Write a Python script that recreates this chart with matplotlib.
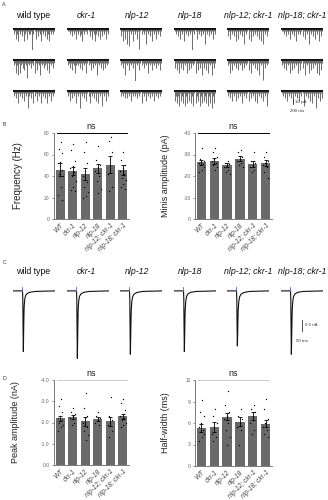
import numpy as np
import matplotlib
matplotlib.use("Agg")
import matplotlib.pyplot as plt

plt.rcParams['font.family'] = ['Liberation Sans', 'DejaVu Sans']

W, H = 328, 500
fig = plt.figure(figsize=(W / 100, H / 100), dpi=100)
fig.patch.set_facecolor('white')


def add_px(x, y, w, h):
    return fig.add_axes([x / W, 1 - (y + h) / H, w / W, h / H])


# ---------------- data ----------------
genotypes = ["wild type", "ckr-1", "nlp-12", "nlp-18", "nlp-12; ckr-1", "nlp-18; ckr-1"]
bar_labels = ["WT", "ckr-1", "nlp-12", "nlp-18", "nlp-12; ckr-1", "nlp-18; ckr-1"]

# Panel A: example mini traces, each digit = event depth (x5 pA) in equal time slots (1 s sweep)
mini_traces = [
    ["2142512131521412219214131251213142512121", "2152615213412712131251412612132141512131", "2131512131412172131521412151213151214121"],
    ["1121312141213251211213141252131413121412", "2131412521213141215121413121612131413121", "2141312151217121314125121314151216121412"],
    ["3151416171215121418121216121315121412131", "2131612141213191214121312151214121312141", "2121313121412121312151214121312141213121"],
    ["1213141215121312191214121312161213121412", "3141513141215141312151413161314151216131", "4252614251625141526152416251425162517251"],
    ["3141213151412131612141513121314151612131", "2151412131412141312141512131416121813121", "2131412141312151213141312141512131412161"],
    ["1121312141213151212131412161213141215131", "2131412151413121514131612151413121516141", "1213141213151213141216121314151217131413"],
]
mini_dur = 1000.0
mini_scale = 5.0

# Panel B
freq_mean = [46, 44.5, 42, 47, 50.5, 45.5]
freq_sem = [6, 3.5, 5.5, 4.5, 8, 5]
freq_pts = [
    [72, 65, 61, 53, 52, 46, 42, 40, 30, 22, 18],
    [70, 64, 54, 49, 47, 44, 40, 35, 30, 27, 26],
    [72, 62, 52, 45, 40, 34, 30, 25, 21, 20],
    [68, 55, 50, 48, 45, 40, 35, 28, 24],
    [76, 73, 62, 50, 42, 30, 26],
    [62, 55, 50, 47, 45, 42, 38, 36, 33, 30, 28],
]
amp_mean = [-26.3, -27, -25, -28, -25.5, -26]
amp_sem = [1.0, 1.3, 0.9, 1.2, 1.3, 1.4]
amp_pts = [
    [-33, -28, -27, -26.5, -26, -25.5, -25, -24, -23, -22],
    [-33, -31, -29, -28, -27, -26, -25, -24, -23],
    [-27, -26, -25.5, -25, -24, -23, -22, -21],
    [-32, -31, -29, -28, -27, -26, -25, -24],
    [-31, -27, -26, -25, -24, -23, -22],
    [-31, -29, -27, -26, -25, -24, -22, -19],
]

# Panel C: averaged evoked currents (nA)
evoked_t = [-35, -1, 0, 1, 2, 3, 4, 5, 7, 10, 15, 25, 45, 115]
evoked_i = [
    [0, 0, -0.3, -1.4, -2.2, -1.5, -0.9, -0.55, -0.3, -0.17, -0.10, -0.05, -0.02, 0],
    [0, 0, -0.3, -1.5, -2.45, -1.8, -1.1, -0.65, -0.35, -0.19, -0.11, -0.05, -0.02, 0],
    [0, 0, -0.3, -1.4, -2.3, -1.8, -1.2, -0.75, -0.40, -0.22, -0.12, -0.06, -0.02, 0],
    [0, 0, -0.3, -1.4, -2.2, -1.7, -1.1, -0.70, -0.38, -0.20, -0.11, -0.05, -0.02, 0],
    [0, 0, -0.3, -1.3, -2.0, -1.6, -1.1, -0.70, -0.40, -0.22, -0.12, -0.06, -0.02, 0],
    [0, 0, -0.3, -1.4, -2.3, -1.8, -1.2, -0.72, -0.38, -0.20, -0.11, -0.05, -0.02, 0],
]

# Panel D
peak_mean = [-2.2, -2.25, -2.05, -2.15, -2.05, -2.3]
peak_sem = [0.12, 0.1, 0.2, 0.1, 0.2, 0.12]
peak_pts = [
    [-3.1, -2.8, -2.5, -2.3, -2.2, -2.1, -2.0, -1.9, -1.8, -1.6],
    [-2.7, -2.5, -2.4, -2.3, -2.2, -2.0, -1.9],
    [-3.4, -2.7, -2.3, -2.2, -2.0, -1.8, -1.6, -1.4, -1.2],
    [-2.5, -2.3, -2.2, -2.1, -2.0, -1.9],
    [-3.2, -2.3, -2.1, -2.0, -1.9, -1.6, -1.3],
    [-3.1, -2.9, -2.6, -2.4, -2.3, -2.2, -2.1, -2.0, -1.9, -1.8],
]
hw_mean = [5.3, 5.5, 6.9, 6.2, 7.0, 5.9]
hw_sem = [0.5, 0.7, 0.5, 0.6, 0.6, 0.5]
hw_pts = [
    [9.2, 7.5, 7.0, 6.0, 5.5, 5.0, 4.8, 4.5, 4.0, 3.5],
    [8.0, 7.0, 6.0, 5.5, 4.5, 4.0, 3.5],
    [10.5, 8.5, 7.5, 7.0, 6.5, 6.0, 5.0, 4.0, 3.0],
    [8.0, 7.0, 6.5, 6.0, 5.5, 5.0, 3.0],
    [8.5, 8.0, 7.5, 7.0, 6.0, 5.0, 4.5],
    [9.3, 8.0, 6.5, 6.0, 5.5, 5.0, 4.5, 4.0],
]

# ---------------- layout ----------------
col_x = [13, 67, 120, 174, 227, 281]
col_w = 42
title_x = [33, 86, 137, 190, 248, 302]
mini_rows_y = [29, 60, 91]

# panel letters
for letter, (lx, ly) in zip("ABCD", [(2, 4), (3, 125), (3, 262), (3, 378)]):
    fig.text(lx / W, 1 - ly / H, letter, fontsize=3.8, va='center', ha='left', color='#333')

# ---- Panel A ----
for c, g in enumerate(genotypes):
    fig.text(title_x[c] / W, 1 - 15 / H, g, fontsize=6.3, ha='center', va='center',
             style='normal' if c == 0 else 'italic', color='#111')
    for r in range(3):
        s = mini_traces[c][r]
        ax = add_px(col_x[c], mini_rows_y[r] - 1, col_w, 22)
        ax.axis('off')
        n = len(s)
        t = (np.arange(n) + 0.5) * mini_dur / n
        amps = np.array([int(ch) for ch in s]) * mini_scale
        ax.plot([0, mini_dur], [0, 0], color='#111', lw=1.5, solid_capstyle='butt')
        ax.vlines(t, -amps, 0, color='#333', lw=0.5)
        ax.set_xlim(0, mini_dur)
        ax.set_ylim(-42, 2)
        if c == 5 and r == 2:
            ax.plot([290, 290], [-16, -26], color='#333', lw=0.6, clip_on=False)
            ax.text(330, -21, "10 pA", fontsize=3.2, va='center', ha='left', color='#333', clip_on=False)
            ax.text(220, -40, "200 ms", fontsize=3.2, va='center', ha='left', color='#333', clip_on=False)

# ---- Panel C ----
for c, g in enumerate(genotypes):
    fig.text(title_x[c] / W, 1 - 272 / H, g, fontsize=6.3, ha='center', va='center',
             style='normal' if c == 0 else 'italic', color='#111')
    ax = add_px(col_x[c], 284, col_w, 78.5)
    ax.axis('off')
    ax.plot(evoked_t, evoked_i[c], color='#111', lw=0.8)
    ax.plot([-2, -2], [0, 0.14], color='#5566aa', lw=0.6)
    ax.set_xlim(-35, 115)
    ax.set_ylim(-2.6, 0.25)
    if c == 5:
        ax.plot([40, 40], [-1.05, -1.45], color='#333', lw=0.6, clip_on=False)
        ax.text(50, -1.25, "0.5 nA", fontsize=3.2, va='center', ha='left', color='#333', clip_on=False)
        ax.text(20, -1.82, "50 ms", fontsize=3.2, va='center', ha='left', color='#333', clip_on=False)


# ---- bar panels ----
def bar_panel(rect, means, sems, points, ylim, yticks, yticklabels, ylabel, label_dx, ns_color, ylab_size):
    ax = add_px(*rect)
    x = np.arange(len(means))
    ax.bar(x, means, width=0.72, color='#6a6a6a', zorder=1)
    ax.errorbar(x, means, yerr=sems, fmt='none', ecolor='black', elinewidth=0.6,
                capsize=1.6, capthick=0.6, zorder=3)
    for i, pts in enumerate(points):
        k = np.arange(len(pts))
        offs = (((k + 1) * 0.618) % 1 - 0.5) * 0.5
        ax.scatter(i + offs, pts, s=0.9, color='black', linewidths=0, zorder=4)
    ax.set_xlim(-0.5, len(means) - 0.5)
    ax.set_ylim(*ylim)
    ax.set_yticks(yticks)
    ax.set_yticklabels(yticklabels)
    ax.set_xticks(x)
    ax.set_xticklabels(bar_labels, rotation=45, ha='right', rotation_mode='anchor',
                       fontsize=4.8, style='italic', color='#444')
    for sp in ['top', 'right']:
        ax.spines[sp].set_visible(False)
    for sp in ['left', 'bottom']:
        ax.spines[sp].set_color('#666')
        ax.spines[sp].set_linewidth(0.6)
    ax.tick_params(axis='y', labelsize=3.6, length=1.5, width=0.5, colors='#666', pad=1.5)
    ax.tick_params(axis='x', length=0, pad=2)
    ax.set_ylabel(ylabel, fontsize=ylab_size, color='#222')
    ax.yaxis.set_label_coords(label_dx / rect[2], 0.5)
    top = ylim[1]
    ax.plot([-0.3, 5.3], [top, top], color=ns_color, lw=0.7, clip_on=False)
    ax.annotate('ns', xy=(2.5, top), xytext=(0, 1.5), textcoords='offset points',
                ha='center', va='bottom', fontsize=6.5, color='#222', annotation_clip=False)
    return ax


bar_panel((54, 133, 75, 86), freq_mean, freq_sem, freq_pts, (0, 80),
          [0, 20, 40, 60, 80], ["0", "20", "40", "60", "80"], "Frequency (Hz)", -31, 'black', 7)
bar_panel((195, 133, 77, 86), amp_mean, amp_sem, amp_pts, (0, -40),
          [0, -10, -20, -30, -40], ["0", "-10", "-20", "-30", "-40"], "Minis amplitude (pA)", -25, 'black', 6.5)
bar_panel((54, 380, 75, 85), peak_mean, peak_sem, peak_pts, (0, -4),
          [0, -1, -2, -3, -4], ["0.0", "-1.0", "-2.0", "-3.0", "-4.0"], "Peak amplitude (nA)", -34, '#cccccc', 6.5)
bar_panel((195, 380, 77, 86), hw_mean, hw_sem, hw_pts, (0, 12),
          [0, 3, 6, 9, 12], ["0", "3", "6", "9", "12"], "Half-width (ms)", -25, '#cccccc', 6.5)

fig.savefig("out.png", dpi=100, facecolor='white')
